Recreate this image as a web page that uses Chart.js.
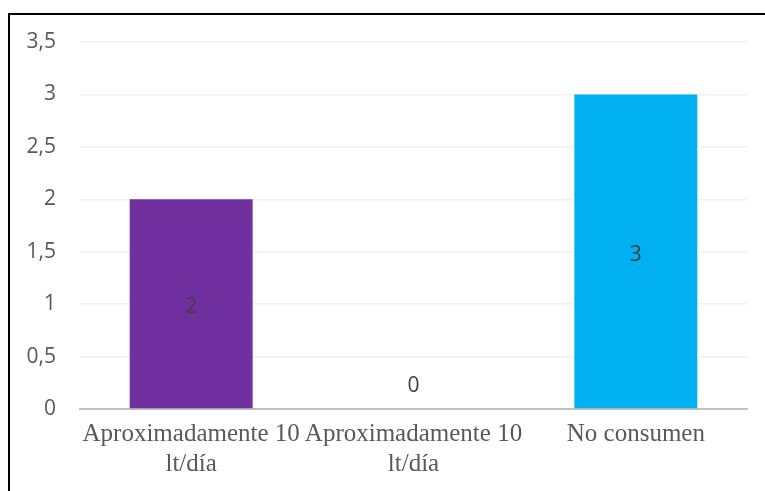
<!DOCTYPE html>
<html>
<head>
<meta charset="utf-8">
<script src="https://cdn.jsdelivr.net/npm/chart.js@4/dist/chart.umd.min.js"></script>
<style>
  html, body { margin: 0; padding: 0; background: #fff; overflow: hidden; }
  #frame {
    position: absolute; left: 8px; top: 13px;
    width: 770px; height: 490px;
    border: 2px solid #000; background: #fff;
  }
  #wrap { position: absolute; left: 0; top: 0; width: 755px; height: 476px; }
</style>
</head>
<body>
<div id="frame"><div id="wrap"><canvas id="c"></canvas></div></div>
<script>
// Consumption categories and respondent counts
const categories = [["Aproximadamente 10", "lt/día"], ["Aproximadamente 10", "lt/día"], "No consumen"];
const counts = [2, 0, 3];
const barColors = ["#7030A0", "#7030A0", "#00B0F0"];
const yTicks = [0, 0.5, 1, 1.5, 2, 2.5, 3, 3.5];

// Writes each bar's value inside it (above the baseline when the bar is empty)
const valueLabels = {
  id: "valueLabels",
  afterDatasetsDraw(chart) {
    const ctx = chart.ctx;
    const meta = chart.getDatasetMeta(0);
    const y = chart.scales.y;
    ctx.save();
    ctx.font = "21px 'Open Sans', sans-serif";
    ctx.fillStyle = "#404040";
    ctx.textAlign = "center";
    ctx.textBaseline = "middle";
    meta.data.forEach((bar, i) => {
      const v = counts[i];
      const base = y.getPixelForValue(0);
      const top = y.getPixelForValue(v);
      let py = (base + top) / 2 + 3;
      if (base - py < 23) py = base - 23;
      ctx.fillText(String(v).replace(".", ","), bar.x, py);
    });
    ctx.restore();
  }
};

new Chart(document.getElementById("c"), {
  type: "bar",
  data: {
    labels: categories,
    datasets: [{
      data: counts,
      backgroundColor: barColors,
      barPercentage: 0.553,
      categoryPercentage: 1
    }]
  },
  options: {
    responsive: true,
    maintainAspectRatio: false,
    animation: false,
    layout: { padding: { left: 0, right: 18, top: 27, bottom: 0 } },
    plugins: { legend: { display: false }, tooltip: { enabled: false } },
    scales: {
      x: {
        grid: { display: false },
        border: { display: true, color: "#C0C0C0", width: 2 },
        ticks: {
          color: "#595959",
          font: { family: "'Liberation Serif', 'Times New Roman', serif", size: 25, lineHeight: 1.2 },
          padding: 2,
          maxRotation: 0,
          autoSkip: false
        },
        afterFit(scale) { scale.height = 82; scale.paddingLeft = 0; scale.paddingRight = 0; }
      },
      y: {
        min: 0,
        max: 3.5,
        afterBuildTicks(scale) { scale.ticks = yTicks.map(v => ({ value: v })); },
        grid: { color: "#F0F0F0", lineWidth: 1.5, drawTicks: false },
        border: { display: false },
        ticks: {
          color: "#595959",
          font: { family: "'Open Sans', sans-serif", size: 21 },
          padding: 24,
          callback: v => String(v).replace(".", ",")
        },
        afterFit(scale) { scale.width = 70; scale.paddingTop = 0; scale.paddingBottom = 0; }
      }
    }
  },
  plugins: [valueLabels]
});
</script>
</body>
</html>
